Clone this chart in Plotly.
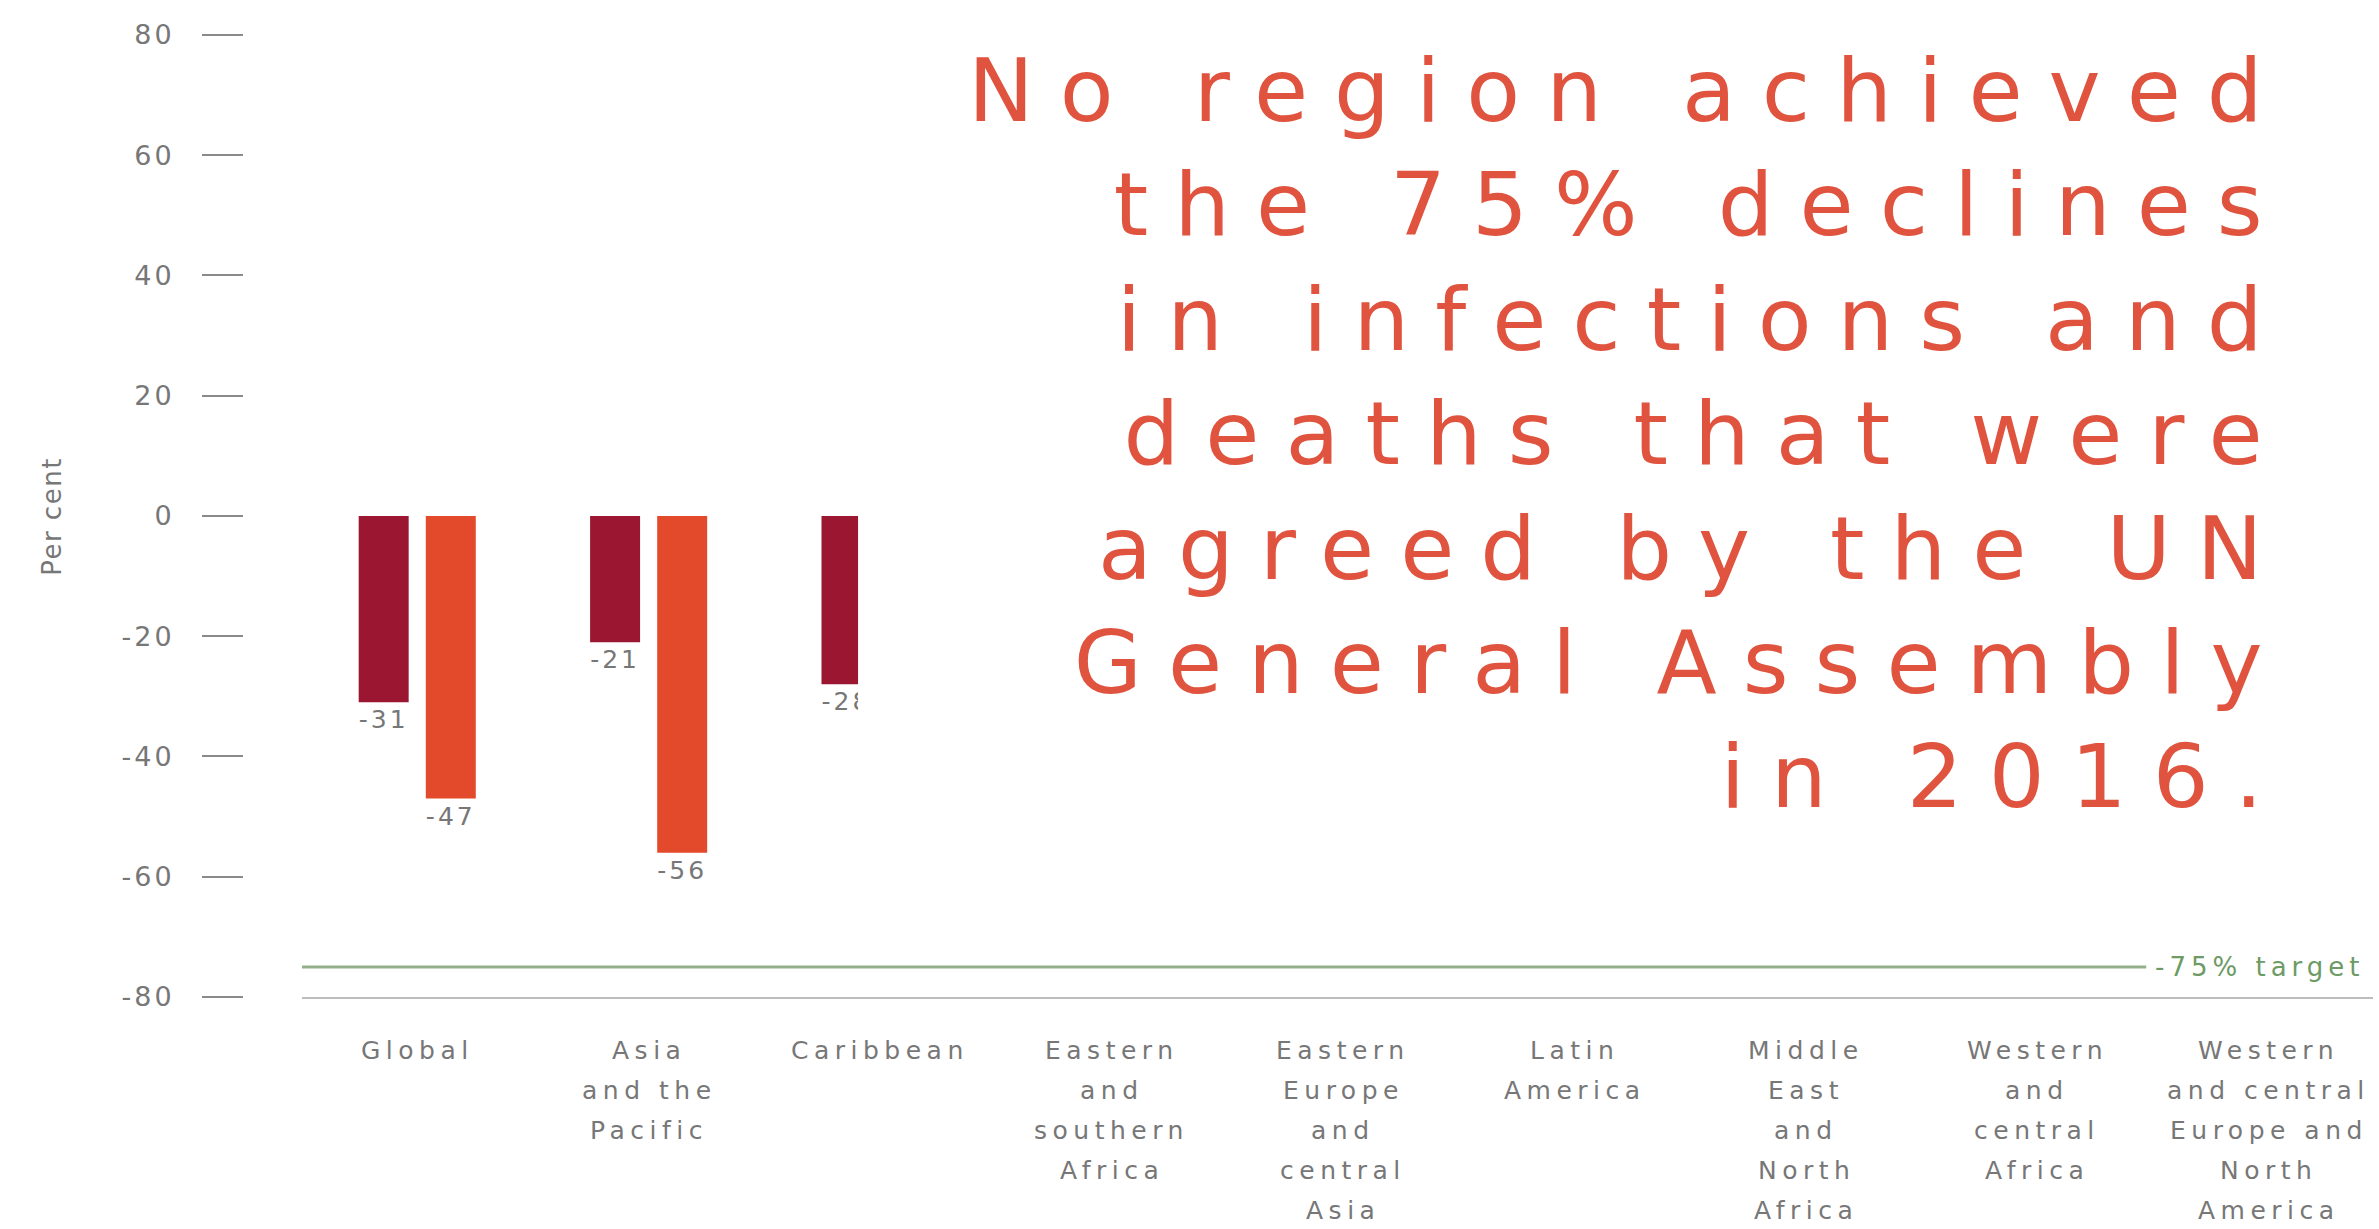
import plotly.graph_objects as go

# Regions (x categories) and their wrapped label lines
categories = [
    "Global", "Asia and the Pacific", "Caribbean", "Eastern and southern Africa",
    "Eastern Europe and central Asia", "Latin America", "Middle East and North Africa",
    "Western and central Africa", "Western and central Europe and North America",
]
category_lines = [
    ["Global"],
    ["Asia", "and the", "Pacific"],
    ["Caribbean"],
    ["Eastern", "and", "southern", "Africa"],
    ["Eastern", "Europe", "and", "central", "Asia"],
    ["Latin", "America"],
    ["Middle", "East", "and", "North", "Africa"],
    ["Western", "and", "central", "Africa"],
    ["Western", "and central", "Europe and", "North", "America"],
]

# Percentage change per region (None where no bar is shown)
infections_change = [-31, -21, -28, None, None, None, None, None, None]
deaths_change = [-47, -56, None, None, None, None, None, None, None]

target_value = -75
target_label = "-75% target"

y_tick_values = [80, 60, 40, 20, 0, -20, -40, -60, -80]
y_tick_text = ["80", "60", "40", "20", "0", "-20", "-40", "-60", "-80"]

headline_lines = [
    "No region achieved",
    "the 75% declines",
    "in infections and",
    "deaths that were",
    "agreed by the UN",
    "General Assembly",
    "in 2016.",
]

DARK = "#9B1630"
ORANGE = "#E24A2B"
GREY_TEXT = "#777777"
GREEN = "#93b08a"
FONT = "DejaVu Sans"


def spaced(text, px):
    return f'<span style="letter-spacing:{px}px">{text}</span>'


def labels(vals):
    return ["" if v is None else spaced(str(v), 3) for v in vals]


fig = go.Figure()
fig.add_trace(go.Bar(
    name="New HIV infections", x=categories, y=infections_change,
    width=0.216, offset=-0.255, marker=dict(color=DARK, line=dict(width=0)),
    text=labels(infections_change), textposition="outside",
    textfont=dict(size=25, color=GREY_TEXT, family=FONT), cliponaxis=False,
))
fig.add_trace(go.Bar(
    name="AIDS-related deaths", x=categories, y=deaths_change,
    width=0.216, offset=0.035, marker=dict(color=ORANGE, line=dict(width=0)),
    text=labels(deaths_change), textposition="outside",
    textfont=dict(size=25, color=GREY_TEXT, family=FONT), cliponaxis=False,
))

# White panel behind the headline
fig.add_shape(type="rect", xref="x", yref="y", x0=1.903, x1=8.45, y0=-52.7, y1=85.8,
              fillcolor="white", line=dict(width=0), layer="above")

# Target line and its label
fig.add_shape(type="line", xref="x", yref="y", x0=-0.5, x1=7.47,
              y0=target_value, y1=target_value, line=dict(color=GREEN, width=3), layer="above")
fig.add_annotation(x=7.50, y=target_value, xref="x", yref="y", text=spaced(target_label, 5),
                   showarrow=False, xanchor="left", yanchor="middle",
                   font=dict(size=26, color="#6e9a66", family=FONT))

# Category labels, one annotation per line
for cat, lines in zip(categories, category_lines):
    for i, line in enumerate(lines):
        fig.add_annotation(x=cat, xref="x", y=0, yref="paper", yshift=-53 - 40 * i,
                           text=spaced(line, 5.5), showarrow=False, xanchor="center",
                           yanchor="middle", font=dict(size=25, color=GREY_TEXT, family=FONT))

# Axis title
fig.add_annotation(x=-0.0977, xref="paper", y=0, yref="y", text=spaced("Per cent", 1.5),
                   textangle=-90, showarrow=False,
                   font=dict(size=26, color=GREY_TEXT, family=FONT))

# Headline
fig.add_annotation(x=0.9615, xref="paper", y=1, yref="paper", yshift=-37,
                   text="<br>".join(spaced(l, 26) for l in headline_lines),
                   showarrow=False, xanchor="right", yanchor="top", align="right",
                   font=dict(size=88, color="#E0533E", family=FONT))

fig.update_layout(
    width=2379, height=1229,
    margin=dict(l=243, r=6, t=0, b=232),
    plot_bgcolor="white", paper_bgcolor="white",
    barmode="overlay", showlegend=False,
    font=dict(family=FONT, color=GREY_TEXT),
    xaxis=dict(domain=[0.0277, 1], range=[-0.5, 8.45], showticklabels=False, ticks="",
               showgrid=False, zeroline=False, showline=True, linecolor="#bdbdbd", linewidth=2),
    yaxis=dict(anchor="free", position=0, range=[-80, 85.8], tickvals=y_tick_values,
               ticktext=[spaced(t, 3) for t in y_tick_text], ticks="outside", ticklen=41,
               tickwidth=2, tickcolor="#8a8a8a", ticklabelstandoff=22,
               tickfont=dict(size=27, color=GREY_TEXT, family=FONT),
               showgrid=False, zeroline=False, showline=False),
)

fig.write_html("out.html")
